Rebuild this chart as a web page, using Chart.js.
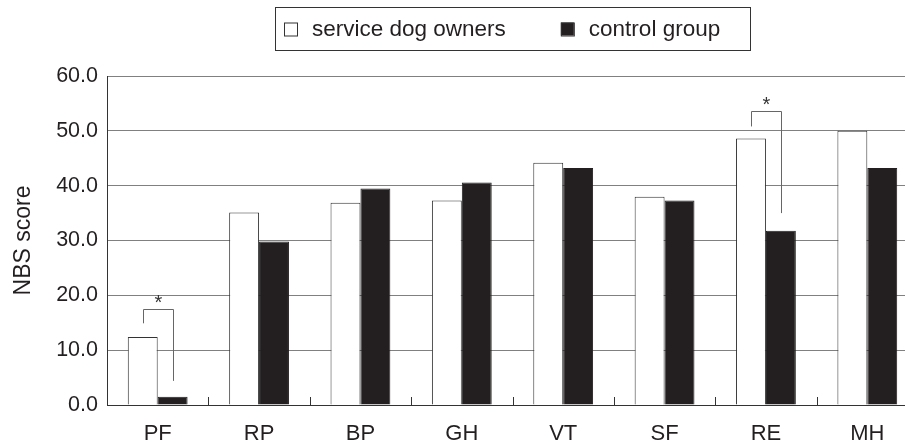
<!DOCTYPE html>
<html>
<head>
<meta charset="utf-8">
<script src="https://cdn.jsdelivr.net/npm/chart.js@4/dist/chart.umd.min.js"></script>
<style>
  html, body { margin: 0; padding: 0; background: #fff; overflow: hidden; }
  #wrap { width: 905px; height: 443px; overflow: hidden; }
</style>
</head>
<body>
<div id="wrap"><canvas id="nbsChart" width="930" height="443"></canvas></div>
<script>
const categories = ["PF", "RP", "BP", "GH", "VT", "SF", "RE", "MH"];
const serviceDogOwners = [12.4, 35.1, 36.9, 37.3, 44.2, 38.0, 48.6, 50.0];
const controlGroup = [1.5, 29.8, 39.5, 40.6, 43.2, 37.3, 31.8, 43.2];
const yTicks = [0, 10, 20, 30, 40, 50, 60];
// significance brackets: category index, bracket top, left leg end, right leg end
const brackets = [
  { cat: 0, top: 17.5, leftEnd: 14.9, rightEnd: 4.4 },
  { cat: 6, top: 53.6, leftEnd: 50.8, rightEnd: 35.0 }
];

const FONT = "'Liberation Sans', Arial, sans-serif";

// legend in a frame, centered above the plot
const boxLegend = {
  id: "boxLegend",
  afterDraw(chart) {
    const ctx = chart.ctx;
    const area = chart.chartArea;
    const cx = (area.left + area.right) / 2;
    const top = 7, h = 43, w = 475;
    const left = cx - w / 2;
    ctx.save();
    ctx.strokeStyle = "#333";
    ctx.lineWidth = 1;
    ctx.strokeRect(Math.round(left) + 0.5, top + 0.5, w, h);
    ctx.font = "22.5px " + FONT;
    ctx.textBaseline = "middle";
    let x = left + 9;
    const cy = top + h / 2;
    chart.data.datasets.forEach((ds, i) => {
      ctx.fillStyle = ds.backgroundColor;
      ctx.fillRect(x, cy - 6, 13, 13);
      ctx.strokeStyle = "#333";
      ctx.strokeRect(x + 0.5, cy - 6 + 0.5, 13, 13);
      x += 28;
      ctx.fillStyle = "#231f20";
      ctx.fillText(ds.label, x, cy + 1);
      x += ctx.measureText(ds.label).width + 55;
    });
    ctx.restore();
  }
};

// small ticks between categories, pointing up from the axis
const catTicks = {
  id: "catTicks",
  afterDatasetsDraw(chart) {
    const ctx = chart.ctx;
    const xs = chart.scales.x;
    const y0 = chart.scales.y.getPixelForValue(0);
    ctx.save();
    ctx.strokeStyle = "#333";
    ctx.lineWidth = 1;
    for (let i = 0; i < categories.length - 1; i++) {
      const bx = Math.round((xs.getPixelForValue(i) + xs.getPixelForValue(i + 1)) / 2) + 0.5;
      ctx.beginPath();
      ctx.moveTo(bx, y0);
      ctx.lineTo(bx, y0 - 8);
      ctx.stroke();
    }
    ctx.restore();
  }
};

const sigBrackets = {
  id: "sigBrackets",
  afterDatasetsDraw(chart) {
    const ctx = chart.ctx;
    const ys = chart.scales.y;
    const m0 = chart.getDatasetMeta(0).data;
    const m1 = chart.getDatasetMeta(1).data;
    ctx.save();
    ctx.strokeStyle = "#666";
    ctx.lineWidth = 1;
    brackets.forEach(b => {
      const xl = Math.round(m0[b.cat].x) + 0.5;
      const xr = Math.round(m1[b.cat].x) + 0.5;
      const yt = Math.round(ys.getPixelForValue(b.top)) + 0.5;
      ctx.beginPath();
      ctx.moveTo(xl, ys.getPixelForValue(b.leftEnd));
      ctx.lineTo(xl, yt);
      ctx.lineTo(xr, yt);
      ctx.lineTo(xr, ys.getPixelForValue(b.rightEnd));
      ctx.stroke();
      ctx.fillStyle = "#333";
      ctx.font = "20px " + FONT;
      ctx.textAlign = "center";
      ctx.textBaseline = "middle";
      ctx.fillText("*", (xl + xr) / 2, yt - 6);
    });
    ctx.restore();
  }
};

new Chart(document.getElementById("nbsChart"), {
  type: "bar",
  data: {
    labels: categories,
    datasets: [
      {
        label: "service dog owners",
        data: serviceDogOwners,
        backgroundColor: "#ffffff",
        borderColor: "#333333",
        borderWidth: 1
      },
      {
        label: "control group",
        data: controlGroup,
        backgroundColor: "#231f20",
        borderColor: "#231f20",
        borderWidth: 1
      }
    ]
  },
  options: {
    responsive: false,
    animation: false,
    layout: { padding: { top: 76, right: 12, left: 0, bottom: 0 } },
    categoryPercentage: 0.59,
    barPercentage: 1.0,
    plugins: {
      legend: { display: false },
      tooltip: { enabled: false }
    },
    scales: {
      x: {
        grid: { display: false },
        border: { color: "#333", width: 1 },
        ticks: { color: "#231f20", font: { family: FONT, size: 22 }, padding: 8 },
        afterFit: s => { s.height = 38; }
      },
      y: {
        min: 0,
        max: 60,
        afterBuildTicks: s => { s.ticks = yTicks.map(v => ({ value: v })); },
        grid: { color: "#808080", drawTicks: false },
        border: { color: "#333", width: 1 },
        ticks: {
          color: "#231f20",
          font: { family: FONT, size: 21.5 },
          padding: 9,
          callback: v => v.toFixed(1)
        },
        title: {
          display: true,
          text: "NBS score",
          color: "#231f20",
          font: { family: FONT, size: 23 },
          padding: { top: 10, bottom: 2 }
        },
        afterFit: s => { s.width = 107; }
      }
    }
  },
  plugins: [catTicks, sigBrackets, boxLegend]
});
</script>
</body>
</html>
